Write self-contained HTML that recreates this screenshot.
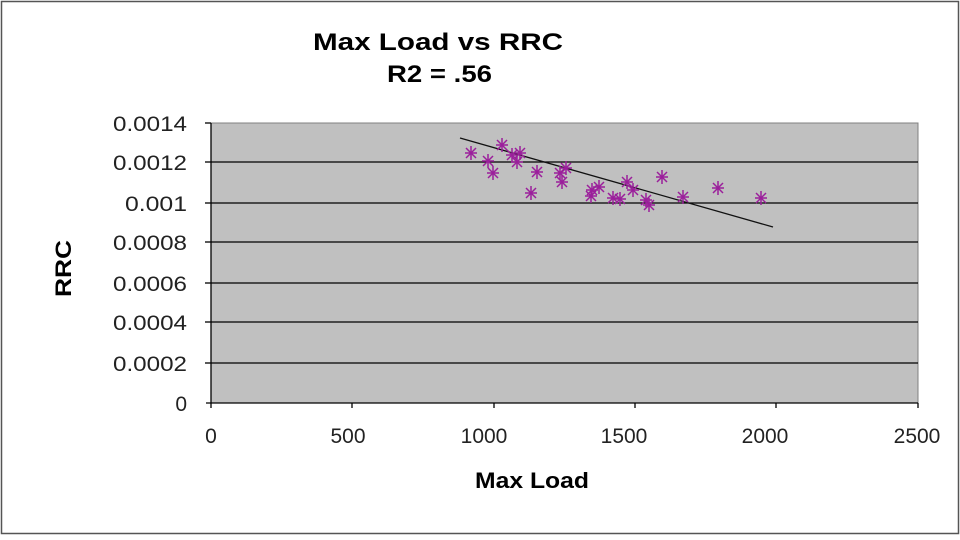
<!DOCTYPE html>
<html><head><meta charset="utf-8"><style>body{margin:0;background:#fff}</style></head><body>
<svg width="960" height="535" xmlns="http://www.w3.org/2000/svg" font-family="Liberation Sans, Arial, sans-serif">
<rect x="1.5" y="1.5" width="957" height="532" fill="#fff" stroke="#555" stroke-width="1.5"/>
<text x="313" y="50" font-size="24" font-weight="bold" textLength="250" lengthAdjust="spacingAndGlyphs">Max Load vs RRC</text>
<text x="387" y="82" font-size="24" font-weight="bold" textLength="105" lengthAdjust="spacingAndGlyphs">R2 = .56</text>
<rect x="211" y="123" width="707" height="280" fill="#c0c0c0" stroke="#808080"/>
<g stroke="#000" stroke-width="1.3">
<line x1="211" y1="162" x2="918" y2="162"/><line x1="211" y1="203" x2="918" y2="203"/>
<line x1="211" y1="242" x2="918" y2="242"/><line x1="211" y1="283" x2="918" y2="283"/>
<line x1="211" y1="322" x2="918" y2="322"/><line x1="211" y1="363" x2="918" y2="363"/>
<line x1="211" y1="123" x2="211" y2="408"/><line x1="206" y1="403" x2="918" y2="403"/>
<line x1="205" y1="123" x2="211" y2="123"/><line x1="205" y1="162" x2="211" y2="162"/><line x1="205" y1="203" x2="211" y2="203"/><line x1="205" y1="242" x2="211" y2="242"/><line x1="205" y1="283" x2="211" y2="283"/><line x1="205" y1="322" x2="211" y2="322"/><line x1="205" y1="363" x2="211" y2="363"/>
<line x1="352" y1="403" x2="352" y2="408"/><line x1="494" y1="403" x2="494" y2="408"/><line x1="635" y1="403" x2="635" y2="408"/><line x1="776" y1="403" x2="776" y2="408"/><line x1="918" y1="403" x2="918" y2="408"/>
</g>
<g font-size="21" fill="#222" text-anchor="end" lengthAdjust="spacingAndGlyphs">
<text x="187" y="131" textLength="74" lengthAdjust="spacingAndGlyphs">0.0014</text><text x="187" y="170" textLength="74" lengthAdjust="spacingAndGlyphs">0.0012</text><text x="187" y="211" textLength="62" lengthAdjust="spacingAndGlyphs">0.001</text><text x="187" y="250" textLength="74" lengthAdjust="spacingAndGlyphs">0.0008</text><text x="187" y="291" textLength="74" lengthAdjust="spacingAndGlyphs">0.0006</text><text x="187" y="330" textLength="74" lengthAdjust="spacingAndGlyphs">0.0004</text><text x="187" y="371" textLength="74" lengthAdjust="spacingAndGlyphs">0.0002</text><text x="187" y="411">0</text>
</g>
<g font-size="21" fill="#222" text-anchor="middle">
<text x="211" y="443">0</text><text x="348" y="443">500</text><text x="484" y="443">1000</text><text x="624" y="443">1500</text><text x="765" y="443">2000</text><text x="917" y="443">2500</text>
</g>
<text x="475" y="488" font-size="22" font-weight="bold" textLength="114" lengthAdjust="spacingAndGlyphs">Max Load</text>
<text transform="translate(71,297) rotate(-90)" font-size="22" font-weight="bold" textLength="57" lengthAdjust="spacingAndGlyphs">RRC</text>
<line x1="460" y1="138" x2="773" y2="227" stroke="#111" stroke-width="1.3"/>
<defs><g id="s" stroke="#9b1f9b" stroke-width="1.5"><line x1="-6" y1="0" x2="6" y2="0"/><line x1="0" y1="-7" x2="0" y2="7"/><line x1="-5" y1="-5" x2="5" y2="5"/><line x1="-5" y1="5" x2="5" y2="-5"/></g></defs>
<g>
<use href="#s" x="471" y="153"/><use href="#s" x="488" y="161"/><use href="#s" x="493" y="173"/><use href="#s" x="502" y="145"/><use href="#s" x="512" y="155"/><use href="#s" x="517" y="162"/><use href="#s" x="520" y="153"/><use href="#s" x="537" y="172"/><use href="#s" x="531" y="193"/><use href="#s" x="560" y="173"/><use href="#s" x="562" y="182"/><use href="#s" x="566" y="168"/><use href="#s" x="592" y="190"/><use href="#s" x="591" y="196"/><use href="#s" x="599" y="187"/><use href="#s" x="613" y="198"/><use href="#s" x="620" y="199"/><use href="#s" x="627" y="182"/><use href="#s" x="633" y="190"/><use href="#s" x="646" y="200"/><use href="#s" x="649" y="205"/><use href="#s" x="662" y="177"/><use href="#s" x="683" y="197"/><use href="#s" x="718" y="188"/><use href="#s" x="761" y="198"/>
</g>
</svg>
</body></html>
